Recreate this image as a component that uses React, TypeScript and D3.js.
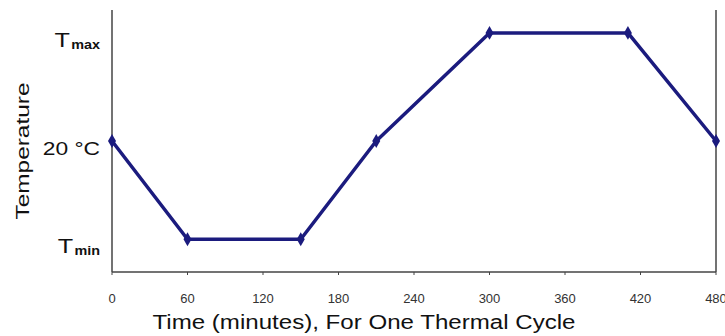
import * as d3 from 'd3';

const times = [0, 60, 150, 210, 300, 410, 480];
const temps = [20, -40, -40, 20, 86, 86, 20];
const xTicks = [0, 60, 120, 180, 240, 300, 360, 420, 480];
const yTicks = [
  { v: 86, main: 'T', sub: 'max' },
  { v: 20, main: '20 °C', sub: '' },
  { v: -40, main: 'T', sub: 'min' },
];

export default function App() {
  const width = 725;
  const height = 336;
  const margin = { top: 10, right: 9, bottom: 64, left: 112 };
  const x = d3.scaleLinear().domain([0, 480]).range([margin.left, width - margin.right]);
  const y = d3.scaleLinear().domain([-60, 100]).range([height - margin.bottom, margin.top]);
  const pts = times.map((t, i) => [t, temps[i]] as [number, number]);
  const line = d3.line<[number, number]>().x(d => x(d[0])).y(d => y(d[1]));
  const axisColor = '#444';
  const lineColor = '#1b1b7e';
  const y0 = height - margin.bottom;
  const font = "Arial, 'Liberation Sans', sans-serif";

  return (
    <svg width={width} height={height} style={{ position: 'absolute', left: 0, top: 0, background: '#fff' }}>
      {/* axes */}
      <line x1={x(0)} x2={x(0)} y1={margin.top} y2={y0} stroke={axisColor} strokeWidth={1.5} />
      <line x1={x(480)} x2={x(480)} y1={margin.top} y2={y0} stroke={axisColor} strokeWidth={1.5} />
      <line x1={x(0)} x2={x(480)} y1={y0} y2={y0} stroke={axisColor} strokeWidth={1.5} />
      {xTicks.map(t => (
        <g key={t}>
          <line x1={x(t)} x2={x(t)} y1={y0} y2={y0 + 3} stroke={axisColor} strokeWidth={1} />
          <text
            x={x(t)}
            y={y0 + 31}
            textAnchor="middle"
            fontFamily="'Liberation Sans Narrow', 'Arial Narrow', sans-serif"
            fontSize={13}
            fill="#333"
          >
            {t}
          </text>
        </g>
      ))}
      {yTicks.map(t => (
        <text
          key={t.main + t.sub}
          transform={`translate(100, ${y(t.v) + 14}) scale(1.2, 1)`}
          textAnchor="end"
          fontFamily={font}
          fontSize={t.sub ? 21 : 19}
          fill="#111"
        >
          {t.main}
          {t.sub && (
            <tspan fontSize={12} dy={2} fontWeight="bold" dx={1}>
              {t.sub}
            </tspan>
          )}
        </text>
      ))}
      <text
        transform={`translate(29, 151) rotate(-90)`}
        textAnchor="middle"
        fontFamily={font}
        fontSize={19}
        textLength={137}
        lengthAdjust="spacingAndGlyphs"
        fill="#111"
      >
        Temperature
      </text>
      <text
        x={364}
        y={329}
        textAnchor="middle"
        fontFamily={font}
        fontSize={20}
        textLength={423}
        lengthAdjust="spacingAndGlyphs"
        fill="#111"
      >
        Time (minutes), For One Thermal Cycle
      </text>
      {/* series */}
      <path d={line(pts) ?? ''} fill="none" stroke={lineColor} strokeWidth={3.5} strokeLinejoin="round" />
      {pts.map((p, i) => (
        <path
          key={i}
          d={d3.symbol(d3.symbolDiamond, 55)() ?? ''}
          transform={`translate(${x(p[0])},${y(p[1])})`}
          fill={lineColor}
        />
      ))}
    </svg>
  );
}
